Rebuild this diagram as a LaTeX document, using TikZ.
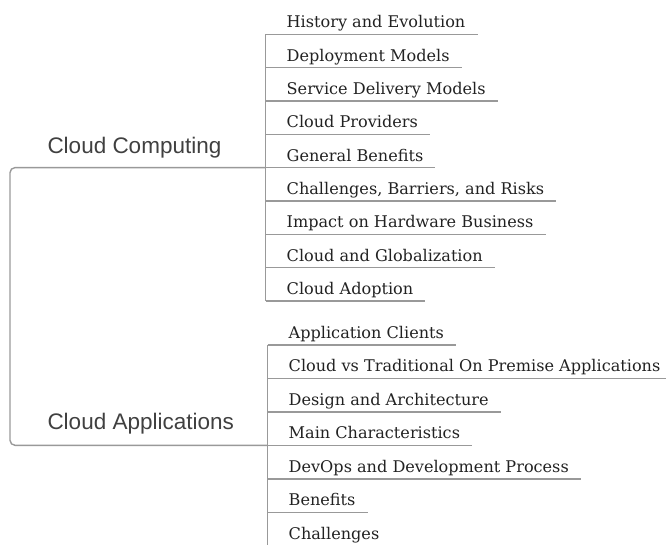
\documentclass[tikz,border=0pt]{standalone}
\usepackage{fontspec}
\usetikzlibrary{calc}
\newfontfamily\slabfont{DejaVu Serif}
\newfontfamily\rootfont{Liberation Sans}
\definecolor{linegray}{HTML}{999999}
\definecolor{childtext}{HTML}{222222}
\definecolor{roottext}{HTML}{404040}
\tikzset{
  rootnode/.style={anchor=base west, inner sep=0pt, text=roottext, font=\rootfont\fontsize{22.5}{26}\selectfont},
  childnode/.style={anchor=base west, inner sep=0pt, text=childtext, font=\slabfont\fontsize{16.1}{19}\selectfont},
  branch/.style={draw=linegray, line width=1.4pt},
}
\begin{document}
\begin{tikzpicture}[x=1pt,y=-1pt]
\clip (0,0) rectangle (666,544);
% root nodes
\node[rootnode] (cc) at (47.3,153.3) {Cloud Computing};
\node[rootnode] (ca) at (47.3,429.6) {Cloud Applications};
% upper children
\foreach \i/\t [count=\k from 0] in {c1/History and Evolution,c2/Deployment Models,c3/Service Delivery Models,c4/Cloud Providers,c5/General Benefits,c6/{Challenges, Barriers, and Risks},c7/Impact on Hardware Business,c8/Cloud and Globalization,c9/Cloud Adoption}{
  \node[childnode] (\i) at (286.5,27.7+33.33*\k) {\t};
  \draw[branch] ($(\i.base west)+(-21,6.6)$) -- ($(\i.base east)+(12,6.6)$);
}
% lower children
\foreach \i/\t [count=\k from 0] in {d1/Application Clients,d2/Cloud vs Traditional On Premise Applications,d3/Design and Architecture,d4/Main Characteristics,d5/DevOps and Development Process,d6/Benefits,d7/Challenges}{
  \node[childnode] (\i) at (288.5,338.2+33.5*\k) {\t};
  \draw[branch] ($(\i.base west)+(-21,6.6)$) -- ($(\i.base east)+(12,6.6)$);
}
% vertical spines
\draw[branch] ($(c1.base west)+(-21,6.6)$) -- ($(c9.base west)+(-21,6.6)$);
\draw[branch] ($(d1.base west)+(-21,6.6)$) -- ($(d7.base west)+(-21,20)$);
% root connector
\coordinate (ccR) at ($(c5.base west)+(-21,6.6)$);
\coordinate (caR) at ($(d4.base west)+(-21,6.6)$);
\draw[branch, rounded corners=5pt] (ccR) -- (cc.base west |- ccR) -- ++(-37.3,0) |- (caR);
\end{tikzpicture}
\end{document}
